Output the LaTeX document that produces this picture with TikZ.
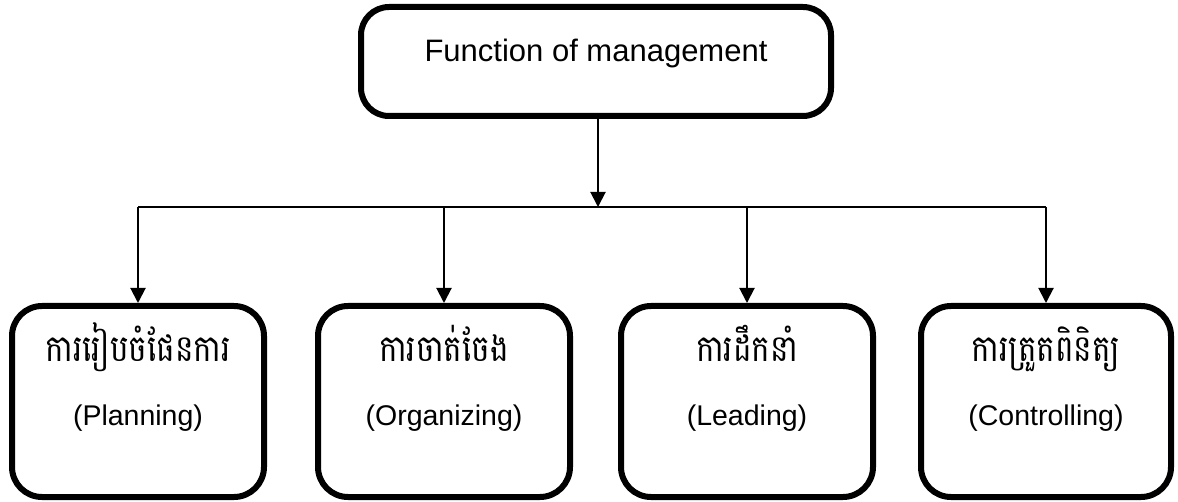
\documentclass[tikz,border=0pt]{standalone}
\usepackage{fontspec}
\setmainfont{Liberation Sans}
\newfontfamily\khmerfont[Script=Khmer,FakeStretch=0.84]{Battambang}
\usetikzlibrary{arrows.meta,calc}
\begin{document}
\begin{tikzpicture}[x=1pt,y=-1pt,
  boxstyle/.style={draw=black,line width=6pt,rounded corners=30pt,minimum width=252pt,minimum height=191pt,inner sep=0pt},
  topstyle/.style={draw=black,line width=6pt,rounded corners=28pt,minimum width=470pt,minimum height=109pt,inner sep=0pt},
  toptext/.style={font=\fontsize{31}{36}\selectfont,inner sep=0pt,anchor=base},
  entext/.style={font=\fontsize{28.5}{34}\selectfont,inner sep=0pt,anchor=base},
  khtext/.style={font=\khmerfont\fontsize{37}{44}\selectfont,inner sep=0pt,anchor=base},
  arr/.style={line width=2pt,-{Triangle[length=15pt,width=15pt]}},
  busline/.style={line width=1.2pt}]
\useasboundingbox (0,0) rectangle (1178,502);
\node[topstyle] (top) at (596,61.5) {};
\node[toptext] (tt) at ($(top.north)+(0,58)$) {Function of management};
\node[boxstyle] (b1) at (138,401.5) {};
\node[boxstyle] (b2) at (444,401.5) {};
\node[boxstyle] (b3) at (747,401.5) {};
\node[boxstyle,minimum width=250pt] (b4) at (1046,401.5) {};
\node[khtext] (k1) at ($(b1.north)+(0,59)$) {ការរៀបចំផែនការ};
\node[khtext] (k2) at ($(b2.north)+(0,59)$) {ការចាត់ចែង};
\node[khtext] (k3) at ($(b3.north)+(0,59)$) {ការដឹកនាំ};
\node[khtext] (k4) at ($(b4.north)+(0,59)$) {ការត្រួតពិនិត្យ};
\node[entext] (e1) at ($(b1.north)+(0,122)$) {(Planning)};
\node[entext] (e2) at ($(b2.north)+(0,122)$) {(Organizing)};
\node[entext] (e3) at ($(b3.north)+(0,122)$) {(Leading)};
\node[entext] (e4) at ($(b4.north)+(0,122)$) {(Controlling)};
\coordinate (bus) at (598,207);
\coordinate (h1) at (b1.north |- bus);
\coordinate (h2) at (b2.north |- bus);
\coordinate (h3) at (b3.north |- bus);
\coordinate (h4) at (b4.north |- bus);
\draw[busline] (h1) -- (h4);
\draw[arr] (top.south -| bus) -- (bus);
\draw[arr] (h1) -- (b1.north);
\draw[arr] (h2) -- (b2.north);
\draw[arr] (h3) -- (b3.north);
\draw[arr] (h4) -- (b4.north);
\end{tikzpicture}
\end{document}
